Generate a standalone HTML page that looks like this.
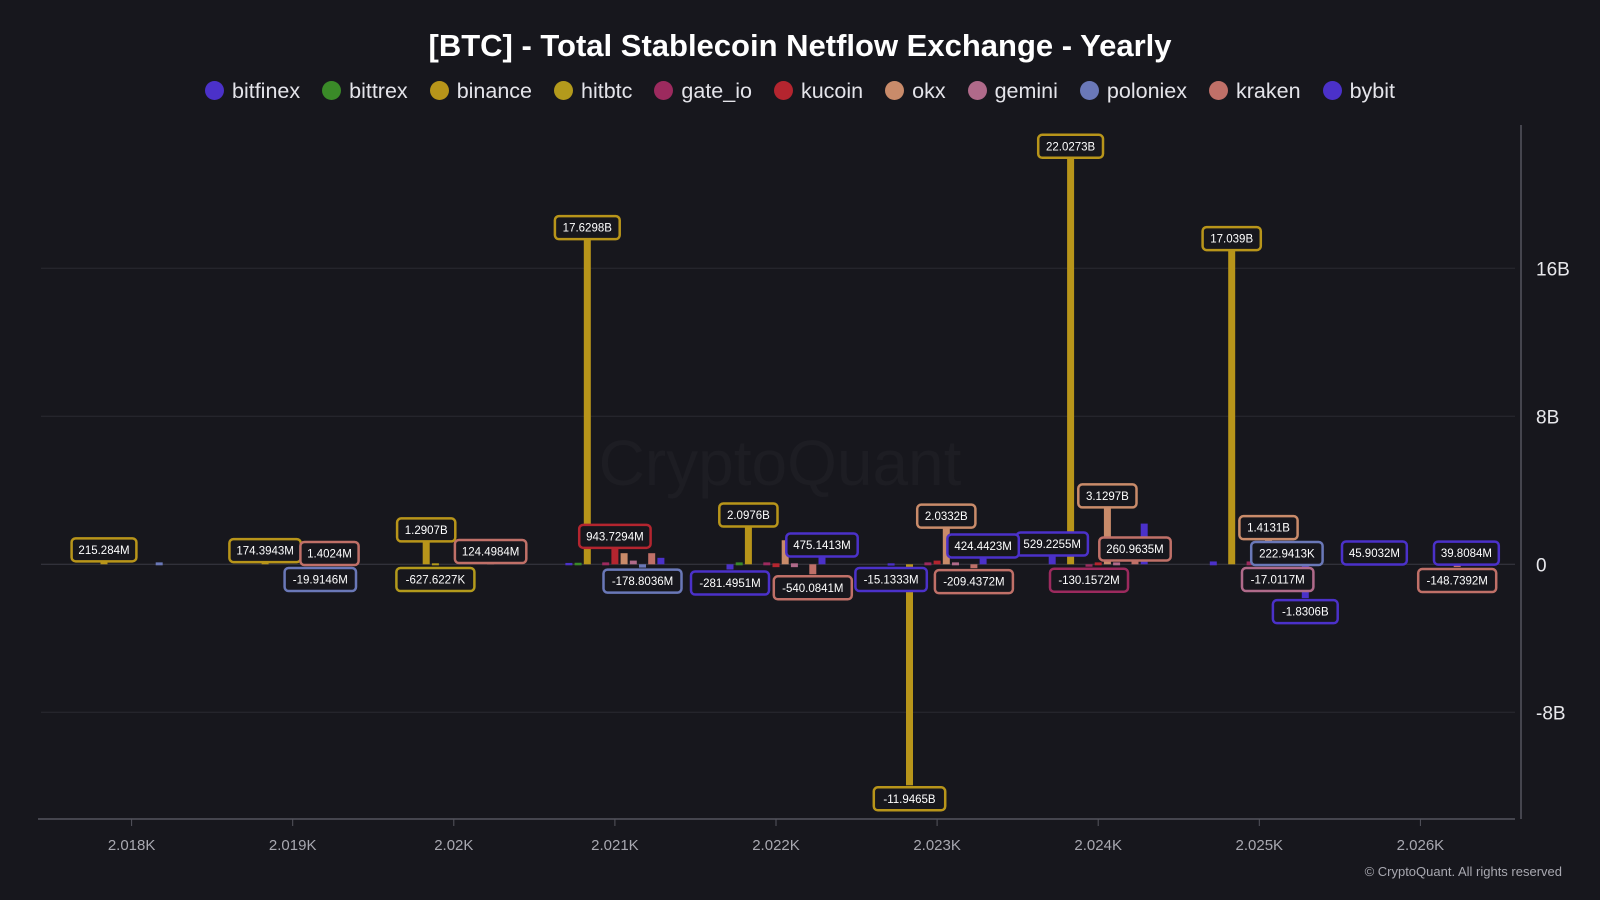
<!DOCTYPE html>
<html><head><meta charset="utf-8">
<style>
html,body{margin:0;padding:0;background:#17171d;}
#wrap{position:relative;width:1600px;height:900px;background:#17171d;font-family:"Liberation Sans",sans-serif;color:#e8e8ec;overflow:hidden}
#title{position:absolute;top:28px;left:0;width:1600px;text-align:center;font-weight:bold;font-size:31px;color:#fff}
#legend{position:absolute;top:79px;left:0;width:1600px;text-align:center;font-size:21.5px;color:#e4e4ea}
.li{display:inline-block;margin:0 11px}
.dot{display:inline-block;width:19px;height:19px;border-radius:50%;vertical-align:-2px;margin-right:8px}
#copy{position:absolute;right:38px;top:864px;font-size:13px;color:#a8a8b0}
svg{position:absolute;left:0;top:0}
</style></head>
<body>
<div id="wrap">
<div id="title">[BTC] - Total Stablecoin Netflow Exchange - Yearly</div>
<div id="legend"></div>
<svg id="chart" width="1600" height="900"></svg>
<div id="copy">© CryptoQuant. All rights reserved</div>
</div>
<script>
const years=[2018,2019,2020,2021,2022,2023,2024,2025,2026];
const seriesNames=["bitfinex","bittrex","binance","hitbtc","gate_io","kucoin","okx","gemini","poloniex","kraken","bybit"];
const seriesColors=["#4b31c9","#3a8a28","#b8951a","#b39a1c","#9c2a5e","#b4252f","#c98b6a","#b06a8a","#6a78b8","#c07068","#4b31c9"];
// values in billions, rows = series, cols = years
const bitfinex=[0,0,0,0.02,-0.2814951,-0.0151333,0.5292255,0.1,0.0459032];
const bittrex=[0,0,0,0.03,0.05,0,0,0,0];
const binance=[0.215284,0.1743943,1.2907,17.6298,2.0976,-11.9465,22.0273,17.039,0];
const hitbtc=[0,0,-0.0006276227,0,0,0,0,0,0];
const gate_io=[0,0,0,0.05,0.05,0.05,-0.1301572,0.1,0];
const kucoin=[0,0,0,0.9437294,-0.1,0.2,0.05,0.05,0];
const okx=[0,0,0,0.6,1.3,2.0332,3.1297,1.4131,0];
const gemini=[0,0,0,0.2,-0.1,0.05,0.05,-0.0170117,0];
const poloniex=[0.05,-0.0199146,0,-0.1788036,0,0,0,0.0002229413,0];
const kraken=[0,0.0014024,0.1244984,0.6,-0.5400841,-0.2094372,0.2609635,0,-0.1487392];
const bybit=[0,0,0,0.35,0.4751413,0.4244423,2.2,-1.8306,0.0398084];
const labelText=[
 [null,null,null,null,"-281.4951M","-15.1333M","529.2255M",null,"45.9032M"],
 [null,null,null,null,null,null,null,null,null],
 ["215.284M","174.3943M","1.2907B","17.6298B","2.0976B","-11.9465B","22.0273B","17.039B",null],
 [null,null,"-627.6227K",null,null,null,null,null,null],
 [null,null,null,null,null,null,"-130.1572M",null,null],
 [null,null,null,"943.7294M",null,null,null,null,null],
 [null,null,null,null,null,"2.0332B","3.1297B","1.4131B",null],
 [null,null,null,null,null,null,null,"-17.0117M",null],
 [null,"-19.9146M",null,"-178.8036M",null,null,null,"222.9413K",null],
 [null,"1.4024M","124.4984M",null,"-540.0841M","-209.4372M","260.9635M",null,"-148.7392M"],
 [null,null,null,null,"475.1413M","424.4423M",null,"-1.8306B","39.8084M"]];
const yTicks=[-8,0,8,16];
const yTickLabels=["-8B","0","8B","16B"];
const xTickLabels=["2.018K","2.019K","2.02K","2.021K","2.022K","2.023K","2.024K","2.025K","2.026K"];
const values=[bitfinex,bittrex,binance,hitbtc,gate_io,kucoin,okx,gemini,poloniex,kraken,bybit];

const NS="http://www.w3.org/2000/svg";
const svg=document.getElementById('chart');
function X(year){return 131.6+(year-2018)*161.1;}
function Y(v){return 564.3-v*18.5;}
function mk(t,a,p){const e=document.createElementNS(NS,t);for(const k in a)e.setAttribute(k,a[k]);(p||svg).appendChild(e);return e;}

const lg=document.getElementById('legend');
seriesNames.forEach((n,i)=>{const s=document.createElement('span');s.className='li';


s.innerHTML='<span class="dot" style="background:'+seriesColors[i]+'"></span>'+n;lg.appendChild(s);});

const wm=mk('text',{x:780,y:485,'font-size':64,fill:'#1d1d23','text-anchor':'middle','font-family':'Liberation Sans'});wm.textContent='CryptoQuant';



yTicks.forEach((t,i)=>{
 const g=mk('line',{x1:41,x2:1515,y1:Y(t),y2:Y(t),stroke:t===0?'#3a3a44':'#2a2a32','stroke-width':1});
 
 
 const tx=mk('text',{x:1536,y:Y(t)+7,'font-size':19,fill:'#e8e8ec','font-family':'Liberation Sans'});tx.textContent=yTickLabels[i];
 
 
});
const ya=mk('line',{x1:1521,x2:1521,y1:125,y2:819,stroke:'#55555e','stroke-width':1.5});


const xa=mk('line',{x1:38,x2:1515,y1:819,y2:819,stroke:'#55555e','stroke-width':1.5});


years.forEach((yr,i)=>{
 const tk=mk('line',{x1:X(yr),x2:X(yr),y1:819,y2:826,stroke:'#55555e'});
 
 
 const tx=mk('text',{x:X(yr),y:850,'font-size':15,fill:'#a8a8b0','text-anchor':'middle','font-family':'Liberation Sans'});tx.textContent=xTickLabels[i];
 
 
});

const step=9.2,bw=7;
values.forEach((arr,si)=>{arr.forEach((v,yi)=>{
 if(v===0)return;
 const cx=X(years[yi])+(si-5)*step;
 let y1=Y(Math.max(v,0)),y2=Y(Math.min(v,0));
 if(y2-y1<2){y1-=1;y2+=1;}
 const r=mk('rect',{x:cx-bw/2,y:y1,width:bw,height:y2-y1,fill:seriesColors[si]});
 
 
});});

values.forEach((arr,si)=>{arr.forEach((v,yi)=>{
 const t=labelText[si][yi];if(!t)return;
 const cx=X(years[yi])+(si-5)*step;
 const w=t.length*6.6+12,h=23;
 let by;
 if(v>=0){by=Math.min(Y(v),564)-h+1;}else{by=Math.max(Y(v),566)+2;}
 const g=mk('g',{});
 
 
 mk('rect',{x:cx-w/2,y:by,width:w,height:h,rx:4,fill:'#17171d',stroke:seriesColors[si],'stroke-width':2.5},g);
 const tx=mk('text',{x:cx,y:by+15.5,'font-size':11.5,fill:'#ffffff','text-anchor':'middle','font-family':'Liberation Sans'},g);
 tx.textContent=t;
});});
</script>
</body></html>
